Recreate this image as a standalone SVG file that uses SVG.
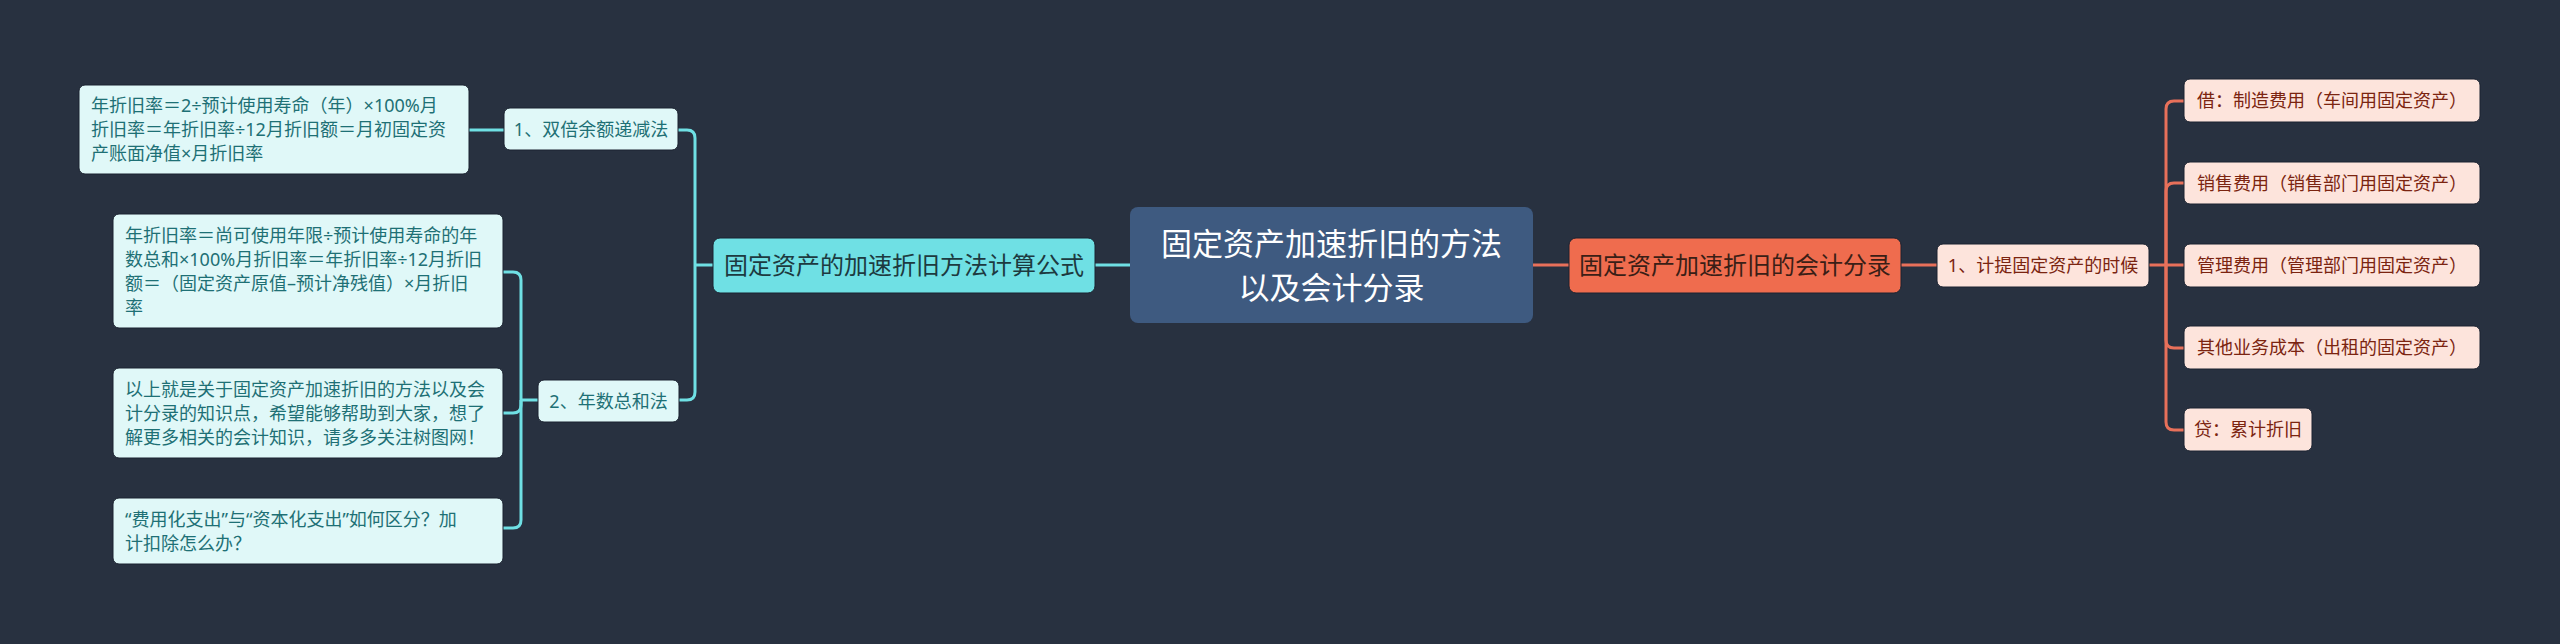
<svg xmlns="http://www.w3.org/2000/svg" width="2560" height="644" viewBox="0 0 2560 644">
<style>
text{font-family:"Noto Sans","Noto Sans CJK SC",sans-serif;}
.lc{fill:none;stroke:#6fe0e4;stroke-width:3;}
.rc{fill:none;stroke:#e8705a;stroke-width:3;}
.lleaf{fill:#e0f8f8;stroke:#1b2230;stroke-width:1;}
.ltxt{fill:#1e7075;font-size:18px;}
.rleaf{fill:#fde4dc;stroke:#1b2230;stroke-width:1;}
.rtxt{fill:#7b2410;font-size:18px;}
</style>
<rect x="0" y="0" width="2560" height="644" fill="#283140"/>
<g id="connectors">
<path class="lc" d="M1130,265 H1094"/>
<path class="lc" d="M713,265 H695"/>
<path class="lc" d="M695,265 V138 Q695,130 687,130 H678"/>
<path class="lc" d="M695,265 V392 Q695,400 687,400 H679"/>
<path class="lc" d="M504,130 H469"/>
<path class="lc" d="M538,400 H521"/>
<path class="lc" d="M521,400 V280 Q521,272 513,272 H503"/>
<path class="lc" d="M521,400 V405 Q521,413 513,413 H503"/>
<path class="lc" d="M521,400 V520 Q521,528 513,528 H503"/>
<path class="rc" d="M1533,265 H1569"/>
<path class="rc" d="M1901,265 H1937"/>
<path class="rc" d="M2149,265 H2184"/>
<path class="rc" d="M2166,265 V109 Q2166,101 2174,101 H2184"/>
<path class="rc" d="M2166,265 V191 Q2166,183 2174,183 H2184"/>
<path class="rc" d="M2166,265 V340 Q2166,348 2174,348 H2184"/>
<path class="rc" d="M2166,265 V422 Q2166,430 2174,430 H2184"/>
</g>
<g id="root">
<rect x="1130" y="207" width="403" height="116" rx="8" fill="#3e5a80"/>
<text x="1331.5" y="255" font-size="31" fill="#ffffff" text-anchor="middle">固定资产加速折旧的方法</text>
<text x="1331.5" y="299" font-size="31" fill="#ffffff" text-anchor="middle">以及会计分录</text>
</g>
<g id="left-main">
<rect x="713" y="238" width="382" height="55" rx="7" fill="#6fe0e4" stroke="#1b2230" stroke-width="1"/>
<text x="904" y="274" font-size="24" fill="#1d3a40" text-anchor="middle">固定资产的加速折旧方法计算公式</text>
</g>
<g id="left-sub1">
<rect class="lleaf" x="504" y="108" width="174" height="42" rx="6"/>
<text class="ltxt" x="591" y="135.5" text-anchor="middle">1、双倍余额递减法</text>
</g>
<g id="left-leaf1">
<rect class="lleaf" x="79" y="85" width="390" height="89" rx="6"/>
<text class="ltxt" x="91" y="112">年折旧率＝2÷预计使用寿命（年）×100%月</text>
<text class="ltxt" x="91" y="136">折旧率＝年折旧率÷12月折旧额＝月初固定资</text>
<text class="ltxt" x="91" y="160">产账面净值×月折旧率</text>
</g>
<g id="left-sub2">
<rect class="lleaf" x="538" y="380" width="141" height="42" rx="6"/>
<text class="ltxt" x="608.5" y="407.5" text-anchor="middle">2、年数总和法</text>
</g>
<g id="left-leaf2">
<rect class="lleaf" x="113" y="214" width="390" height="114" rx="6"/>
<text class="ltxt" x="125" y="241.5">年折旧率＝尚可使用年限÷预计使用寿命的年</text>
<text class="ltxt" x="125" y="265.5">数总和×100%月折旧率＝年折旧率÷12月折旧</text>
<text class="ltxt" x="125" y="289.5">额＝（固定资产原值–预计净残值）×月折旧</text>
<text class="ltxt" x="125" y="313.5">率</text>
</g>
<g id="left-leaf3">
<rect class="lleaf" x="113" y="368" width="390" height="90" rx="6"/>
<text class="ltxt" x="125" y="395.5">以上就是关于固定资产加速折旧的方法以及会</text>
<text class="ltxt" x="125" y="419.5">计分录的知识点，希望能够帮助到大家，想了</text>
<text class="ltxt" x="125" y="443.5">解更多相关的会计知识，请多多关注树图网！</text>
</g>
<g id="left-leaf4">
<rect class="lleaf" x="113" y="498" width="390" height="66" rx="6"/>
<text class="ltxt" x="125" y="525.5">“费用化支出”与“资本化支出”如何区分？加</text>
<text class="ltxt" x="125" y="549.5">计扣除怎么办？</text>
</g>
<g id="right-main">
<rect x="1569" y="238" width="332" height="55" rx="7" fill="#ef6c4e" stroke="#1b2230" stroke-width="1"/>
<text x="1735" y="274" font-size="24" fill="#3a1e16" text-anchor="middle">固定资产加速折旧的会计分录</text>
</g>
<g id="right-sub1">
<rect class="rleaf" x="1937" y="244" width="212" height="43" rx="6"/>
<text class="rtxt" x="2043" y="272" text-anchor="middle">1、计提固定资产的时候</text>
</g>
<g id="right-leaf1">
<rect class="rleaf" x="2184" y="79" width="296" height="43" rx="6"/>
<text class="rtxt" x="2332" y="107" text-anchor="middle">借：制造费用（车间用固定资产）</text>
</g>
<g id="right-leaf2">
<rect class="rleaf" x="2184" y="162" width="296" height="42" rx="6"/>
<text class="rtxt" x="2332" y="189.5" text-anchor="middle">销售费用（销售部门用固定资产）</text>
</g>
<g id="right-leaf3">
<rect class="rleaf" x="2184" y="244" width="296" height="43" rx="6"/>
<text class="rtxt" x="2332" y="272" text-anchor="middle">管理费用（管理部门用固定资产）</text>
</g>
<g id="right-leaf4">
<rect class="rleaf" x="2184" y="326" width="296" height="43" rx="6"/>
<text class="rtxt" x="2332" y="354" text-anchor="middle">其他业务成本（出租的固定资产）</text>
</g>
<g id="right-leaf5">
<rect class="rleaf" x="2184" y="408" width="128" height="43" rx="6"/>
<text class="rtxt" x="2248" y="436" text-anchor="middle">贷：累计折旧</text>
</g>
</svg>
